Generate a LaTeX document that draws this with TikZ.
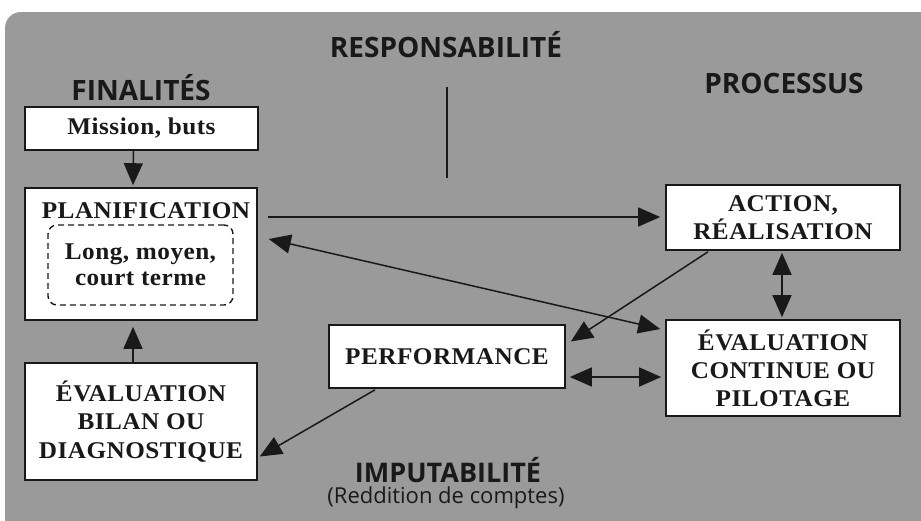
\documentclass[tikz,border=0pt]{standalone}
\usepackage{fontspec}
\setmainfont{Liberation Serif}
\newfontfamily\boxfont[FakeStretch=1.05,LetterSpace=2]{Liberation Serif Bold}
\newfontfamily\headfont{Open Sans Bold}
\newfontfamily\subfont{Open Sans}
\usetikzlibrary{arrows.meta,calc}
\definecolor{bg}{RGB}{154,154,154}
\definecolor{ink}{RGB}{25,25,25}
\tikzset{tipA/.tip={Triangle[length=22pt,width=19pt]}}
\begin{document}
\begin{tikzpicture}[x=1pt,y=-1pt,
  box/.style={draw=ink,line width=1.6pt,fill=white,rectangle,inner sep=0pt,align=center,
    font=\boxfont\fontsize{24}{28}\selectfont,text=ink},
  head/.style={font=\headfont\fontsize{28}{30}\selectfont,text=ink,inner sep=0pt},
  arr/.style={draw=ink,line width=1.5pt,-tipA},
  darr/.style={draw=ink,line width=1.5pt,tipA-tipA},
  ]
\useasboundingbox (0,0) rectangle (921,520);
\fill[bg,rounded corners=16pt] (5,12) rectangle (940,540);
% headings
\node[head] (resp) at (446,45) {RESPONSABILITÉ};
\node[head] (fin) at (141,88) {FINALITÉS};
\node[head] (proc) at (784,83) {PROCESSUS};
\node[head,font=\headfont\fontsize{27}{28}\selectfont,anchor=base] (imp) at (448,482) {IMPUTABILITÉ};
\node[font=\subfont\fontsize{22}{24}\selectfont,text=ink,inner sep=0pt,anchor=base] (redd) at (446,503) {(Reddition de comptes)};
\coordinate (vtop) at (447,87);
\coordinate (vbot) at (447,178);
\draw[ink,line width=1.5pt] (vtop) -- (vbot);
% boxes
\node[box,minimum width=233pt,minimum height=43pt] (mission) at (141.5,128.5) {Mission, buts};
\node[box,minimum width=232pt,minimum height=132pt] (planif) at (141,254) {};
\node[font=\boxfont\fontsize{24}{28}\selectfont,text=ink,inner sep=0pt] (ptitle) at (146,211) {PLANIFICATION};
\node[draw=ink,dashed,dash pattern=on 6pt off 4pt,line width=1.4pt,rounded corners=9pt,
  minimum width=185pt,minimum height=80pt,align=center,inner sep=0pt,
  font=\boxfont\fontsize{24}{26}\selectfont,text=ink] (terme) at (140.5,265) {Long, moyen,\\court terme};
\node[box,minimum width=232pt,minimum height=117pt,font=\boxfont\fontsize{24}{28.5}\selectfont] (bilan) at (141,421.5) {ÉVALUATION\\BILAN OU\\DIAGNOSTIQUE};
\node[box,minimum width=236pt,minimum height=63pt] (perf) at (447,356.5) {PERFORMANCE};
\node[box,minimum width=234pt,minimum height=65pt] (action) at (783,217.5) {ACTION,\\RÉALISATION};
\node[box,minimum width=234pt,minimum height=96pt] (evalc) at (783,368) {ÉVALUATION\\CONTINUE OU\\PILOTAGE};
% connectors
\draw[arr] ($(mission.south)+(-8,0)$) -- ($(planif.north)+(-8,-2)$);
\draw[arr] ($(bilan.north)+(-8,0)$) -- ($(planif.south)+(-8,6)$);
\draw[arr] ($(planif.east)+(10,-37)$) -- ($(action.west)+(-5,-0.5)$);
\draw[darr] ($(planif.east)+(11,-15)$) -- ($(evalc.west)+(-5,-39)$);
\draw[arr] ($(action.south)+(-75,1)$) -- ($(perf.east)+(5,-15)$);
\draw[darr] ($(action.south)+(-1,2)$) -- ($(evalc.north)+(-1,-2)$);
\draw[darr] ($(perf.east)+(4,20.5)$) -- ($(evalc.west)+(-4,9)$);
\draw[arr] ($(perf.south)+(-72,1)$) -- ($(bilan.east)+(2,35)$);
\end{tikzpicture}
\end{document}
